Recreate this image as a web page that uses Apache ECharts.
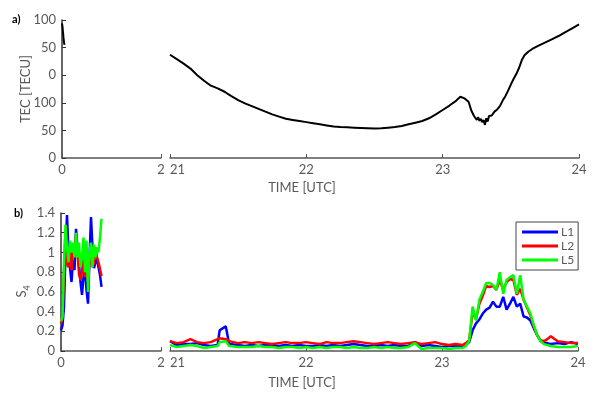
<!DOCTYPE html>
<html>
<head>
<meta charset="utf-8">
<script src="https://cdn.jsdelivr.net/npm/echarts@6/dist/echarts.min.js"></script>
<style>
  html, body { margin: 0; padding: 0; background: #fff; }
  #chart { width: 604px; height: 395px; }
</style>
</head>
<body>
<div id="chart"></div>
<script>
// panel a) TEC, left piece of the broken time axis
const tecTimeL = [0, 0.01, 0.02, 0.03, 0.04, 0.05];
const tecValL = [244, 238, 228, 218, 210, 205];

// panel a) TEC, right piece
const tecTimeR = [21.00, 21.05, 21.10, 21.15, 21.20, 21.25, 21.30, 21.35, 21.40, 21.45,
  21.50, 21.55, 21.60, 21.65, 21.70, 21.75, 21.80, 21.85, 21.90, 21.95,
  22.00, 22.05, 22.10, 22.15, 22.20, 22.25, 22.30, 22.35, 22.40, 22.45,
  22.50, 22.55, 22.60, 22.65, 22.70, 22.75, 22.80, 22.85, 22.90, 22.95,
  23.00, 23.05, 23.10, 23.13, 23.16, 23.19, 23.21, 23.23, 23.25, 23.26,
  23.27, 23.28, 23.29, 23.30, 23.31, 23.32, 23.33, 23.34, 23.36, 23.38,
  23.40, 23.42, 23.44, 23.46, 23.48, 23.50, 23.52, 23.54, 23.56, 23.58,
  23.60, 23.63, 23.66, 23.70, 23.75, 23.80, 23.85, 23.90, 23.95, 24.00];
const tecValR = [187, 179, 171, 162, 150, 140, 131, 126, 120, 112,
  105, 99, 94, 89, 84, 79, 75, 71, 69, 67,
  65, 63, 61, 59, 57, 56, 55.5, 55, 54.5, 54,
  53.5, 54, 55, 56, 58, 61, 64, 67, 72, 79,
  87, 95, 104, 111, 108, 102, 86, 76, 69, 74,
  67, 71, 65, 69, 60, 72, 66, 76, 77, 84,
  88, 94, 104, 112, 122, 133, 143, 152, 163, 177,
  186, 193, 198, 203, 209, 215, 221, 228, 235, 242];

// panel b) S4, left piece
const s4TimeL = [0, 0.03, 0.06, 0.09, 0.12, 0.15, 0.18, 0.21, 0.24, 0.27,
  0.30, 0.33, 0.36, 0.39, 0.42, 0.45, 0.48, 0.51, 0.54, 0.57,
  0.60, 0.63, 0.66, 0.69, 0.72, 0.75, 0.78, 0.81];
const s4L1L = [0.21, 0.26, 0.45, 1.0, 1.38, 1.0, 0.84, 0.70, 0.92, 0.82,
  1.24, 1.05, 0.88, 0.70, 0.57, 0.75, 0.84, 0.62, 0.48, 0.95,
  1.36, 1.05, 0.84, 0.90, 0.94, 0.85, 0.77, 0.65];
const s4L2L = [0.28, 0.35, 0.80, 1.22, 0.88, 0.85, 1.05, 0.82, 1.0, 0.95,
  1.18, 1.0, 0.78, 0.72, 0.80, 1.02, 0.75, 0.85, 0.70, 0.90,
  1.0, 0.85, 0.90, 1.05, 0.95, 0.90, 0.92, 0.76];
const s4L5L = [0.30, 0.35, 0.90, 1.28, 1.05, 0.90, 1.12, 1.0, 1.10, 0.95,
  1.20, 0.95, 1.10, 0.85, 0.95, 1.15, 0.80, 1.12, 0.60, 1.0,
  1.10, 0.85, 1.08, 0.95, 1.05, 1.0, 1.15, 1.34];

// panel b) S4, right piece
const s4TimeR = [21.00, 21.05, 21.10, 21.15, 21.20, 21.25, 21.30, 21.35, 21.365, 21.41, 21.435,
  21.50, 21.55, 21.60, 21.65, 21.70, 21.75, 21.80, 21.85, 21.90, 21.95,
  22.00, 22.05, 22.10, 22.15, 22.20, 22.25, 22.30, 22.35, 22.40, 22.45,
  22.50, 22.55, 22.60, 22.65, 22.70, 22.75, 22.80, 22.85, 22.90, 22.95,
  23.00, 23.05, 23.10, 23.15,
  23.175, 23.20, 23.225, 23.25, 23.275, 23.30, 23.325, 23.35, 23.375, 23.40,
  23.425, 23.45, 23.475, 23.50, 23.525, 23.55, 23.575, 23.60, 23.625, 23.65,
  23.675, 23.70, 23.725, 23.75, 23.775, 23.80,
  23.85, 23.90, 23.95, 24.00];
const s4L1R = [0.10, 0.06, 0.07, 0.07, 0.08, 0.06, 0.05, 0.06, 0.21, 0.25, 0.07,
  0.06, 0.05, 0.06, 0.05, 0.06, 0.06, 0.05, 0.06, 0.05, 0.06,
  0.05, 0.05, 0.06, 0.05, 0.06, 0.05, 0.06, 0.07, 0.06, 0.05,
  0.05, 0.06, 0.05, 0.06, 0.05, 0.05, 0.09, 0.05, 0.06, 0.05,
  0.04, 0.05, 0.05, 0.05,
  0.06, 0.09, 0.21, 0.28, 0.32, 0.38, 0.42, 0.44, 0.50, 0.45,
  0.45, 0.55, 0.42, 0.48, 0.55, 0.45, 0.48, 0.35, 0.34, 0.31,
  0.23, 0.16, 0.10, 0.08, 0.08, 0.07,
  0.08, 0.07, 0.09, 0.07];
const s4L2R = [0.10, 0.08, 0.09, 0.12, 0.09, 0.08, 0.09, 0.12, 0.13, 0.12, 0.10,
  0.08, 0.09, 0.08, 0.09, 0.08, 0.07, 0.08, 0.09, 0.08, 0.08,
  0.09, 0.08, 0.07, 0.09, 0.08, 0.08, 0.09, 0.10, 0.09, 0.08,
  0.07, 0.08, 0.09, 0.08, 0.07, 0.08, 0.09, 0.07, 0.08, 0.09,
  0.07, 0.06, 0.07, 0.06,
  0.08, 0.11, 0.40, 0.32, 0.48, 0.56, 0.66, 0.65, 0.66, 0.62,
  0.72, 0.62, 0.70, 0.73, 0.72, 0.57, 0.63, 0.52, 0.44, 0.36,
  0.25, 0.16, 0.11, 0.10, 0.12, 0.15,
  0.10, 0.09, 0.08, 0.08];
const s4L5R = [0.06, 0.04, 0.05, 0.06, 0.05, 0.03, 0.04, 0.05, 0.09, 0.10, 0.05,
  0.04, 0.04, 0.04, 0.05, 0.04, 0.04, 0.03, 0.04, 0.04, 0.03,
  0.04, 0.03, 0.04, 0.03, 0.04, 0.04, 0.03, 0.04, 0.03, 0.03,
  0.04, 0.03, 0.04, 0.03, 0.03, 0.04, 0.08, 0.02, 0.03, 0.03,
  0.03, 0.02, 0.03, 0.03,
  0.05, 0.10, 0.45, 0.31, 0.52, 0.60, 0.69, 0.69, 0.67, 0.62,
  0.80, 0.58, 0.72, 0.75, 0.77, 0.58, 0.77, 0.52, 0.45, 0.38,
  0.26, 0.16, 0.10, 0.07, 0.06, 0.05,
  0.04, 0.04, 0.04, 0.05];

// tick labels of the TEC axis as printed (0..250 in steps of 50)
const tecTickLabels = ["0", "50", "100", "0", "50", "100"];

const zip = (xs, ys) => xs.map((x, i) => [x, ys[i]]);

const FONT = "Lato";
const GREY = "#595959";
const AXIS = "#555";

const chart = echarts.init(document.getElementById("chart"));

const xAxisBase = {
  type: "value",
  axisLine: {show: true, lineStyle: {color: AXIS, width: 1.5}},
  axisTick: {show: true, inside: true, length: 4, lineStyle: {color: AXIS}},
  axisLabel: {color: GREY, fontFamily: FONT, fontSize: 13, margin: 5},
  splitLine: {show: false}
};

const yAxisBase = {
  type: "value",
  axisLine: {show: true, lineStyle: {color: "#333", width: 1.5}},
  axisTick: {show: true, inside: true, length: 4, lineStyle: {color: "#333"}},
  axisLabel: {color: GREY, fontFamily: FONT, fontSize: 13, margin: 6},
  splitLine: {show: false}
};

const rightXLabel = Object.assign({}, xAxisBase.axisLabel, {alignMinLabel: "left", showMinLabel: true});

const line = (name, color, x, y, data, width) => ({
  name: name,
  type: "line",
  xAxisIndex: x,
  yAxisIndex: y,
  data: data,
  showSymbol: false,
  color: color,
  lineStyle: {color: color, width: width},
  z: 3
});

const option = {
  animation: false,
  backgroundColor: "#fff",
  grid: [
    {left: 62, top: 20, width: 99, height: 138},
    {left: 170, top: 20, width: 409, height: 138},
    {left: 61, top: 213, width: 100, height: 138},
    {left: 170, top: 213, width: 408, height: 138}
  ],
  xAxis: [
    Object.assign({}, xAxisBase, {gridIndex: 0, min: 0, max: 2, interval: 2}),
    Object.assign({}, xAxisBase, {gridIndex: 1, min: 21, max: 24, interval: 1, axisLabel: rightXLabel}),
    Object.assign({}, xAxisBase, {gridIndex: 2, min: 0, max: 2, interval: 2}),
    Object.assign({}, xAxisBase, {gridIndex: 3, min: 21, max: 24, interval: 1, axisLabel: rightXLabel})
  ],
  yAxis: [
    Object.assign({}, yAxisBase, {
      gridIndex: 0, min: 0, max: 250, interval: 50,
      axisLabel: Object.assign({}, yAxisBase.axisLabel, {
        formatter: v => tecTickLabels[Math.round(v / 50)]
      })
    }),
    {type: "value", gridIndex: 1, min: 0, max: 250, show: false},
    Object.assign({}, yAxisBase, {gridIndex: 2, min: 0, max: 1.4, interval: 0.2}),
    {type: "value", gridIndex: 3, min: 0, max: 1.4, show: false}
  ],
  legend: {
    data: ["L1", "L2", "L5"],
    orient: "vertical",
    left: 516,
    top: 222,
    width: 60,
    padding: [4, 4, 4, 6],
    itemGap: 2,
    itemWidth: 36,
    itemHeight: 3,
    icon: "rect",
    borderColor: "#444",
    borderWidth: 1,
    backgroundColor: "#fff",
    textStyle: {color: GREY, fontFamily: FONT, fontSize: 12, padding: [0, 0, 0, -2]}
  },
  series: [
    line("TEC", "#000", 0, 0, zip(tecTimeL, tecValL), 2),
    line("TEC", "#000", 1, 1, zip(tecTimeR, tecValR), 2),
    line("L1", "#0000ff", 2, 2, zip(s4TimeL, s4L1L), 2.5),
    line("L2", "#ff0000", 2, 2, zip(s4TimeL, s4L2L), 2.5),
    line("L5", "#00ff00", 2, 2, zip(s4TimeL, s4L5L), 2.5),
    line("L1", "#0000ff", 3, 3, zip(s4TimeR, s4L1R), 2.5),
    line("L2", "#ff0000", 3, 3, zip(s4TimeR, s4L2R), 2.5),
    line("L5", "#00ff00", 3, 3, zip(s4TimeR, s4L5R), 2.5)
  ],
  graphic: [
    {type: "text", x: 12, y: 14, style: {text: "a)", fill: "#000", font: "bold 11px " + FONT}},
    {type: "text", x: 14, y: 208, style: {text: "b)", fill: "#000", font: "bold 11px " + FONT}},
    {type: "text", x: 26, y: 89, rotation: Math.PI / 2,
      style: {text: "TEC [TECU]", fill: GREY, font: "13px " + FONT, align: "center", verticalAlign: "middle"}},
    {type: "text", x: 22, y: 294, rotation: Math.PI / 2,
      style: {text: "S", fill: GREY, font: "13px " + FONT, align: "center", verticalAlign: "middle"}},
    {type: "text", x: 27, y: 288, rotation: Math.PI / 2,
      style: {text: "4", fill: GREY, font: "9px " + FONT, align: "center", verticalAlign: "middle"}},
    {type: "text", x: 302, y: 188,
      style: {text: "TIME [UTC]", fill: GREY, font: "13px " + FONT, align: "center", verticalAlign: "middle"}},
    {type: "text", x: 302, y: 383,
      style: {text: "TIME [UTC]", fill: GREY, font: "13px " + FONT, align: "center", verticalAlign: "middle"}}
  ]
};

chart.setOption(option);
</script>
</body>
</html>
